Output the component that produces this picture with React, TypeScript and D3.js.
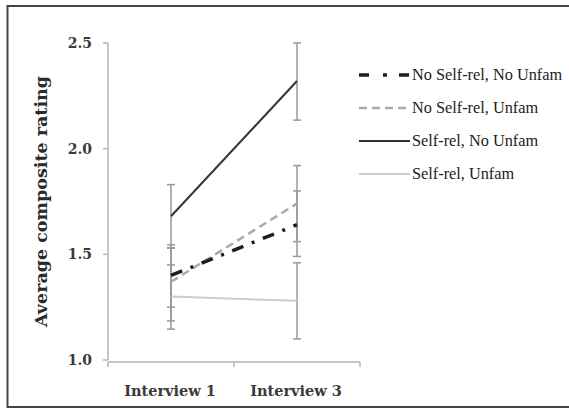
import React from "react";
import * as d3 from "d3";

const categories = ["Interview 1", "Interview 3"];
const yTicks = [1.0, 1.5, 2.0, 2.5];

const seriesNames = [
  "No Self-rel, No Unfam",
  "No Self-rel, Unfam",
  "Self-rel, No Unfam",
  "Self-rel, Unfam",
];
const noSelfNoUnfam = [1.4, 1.64];
const noSelfNoUnfamLo = [1.25, 1.49];
const noSelfNoUnfamHi = [1.545, 1.8];

const noSelfUnfam = [1.37, 1.74];
const noSelfUnfamLo = [1.185, 1.56];
const noSelfUnfamHi = [1.53, 1.92];

const selfNoUnfam = [1.68, 2.32];
const selfNoUnfamLo = [1.53, 2.135];
const selfNoUnfamHi = [1.83, 2.5];

const selfUnfam = [1.3, 1.28];
const selfUnfamLo = [1.146, 1.1];
const selfUnfamHi = [1.45, 1.46];

const W = 569;
const H = 408;

const styles = [
  { stroke: "#1e1e1e", width: 3.5, dash: "12,9,3,9" },
  { stroke: "#aaaaaa", width: 2.5, dash: "8,5" },
  { stroke: "#333333", width: 2, dash: null },
  { stroke: "#cccccc", width: 2, dash: null },
];

export default function App() {
  const x = d3.scaleBand().domain(categories).range([108, 360]).padding(0);
  const y = d3.scaleLinear().domain([1.0, 2.5]).range([360, 43]);
  const cx = (c: string) => (x(c) as number) + x.bandwidth() / 2;

  const series = [
    { name: seriesNames[0], v: noSelfNoUnfam, lo: noSelfNoUnfamLo, hi: noSelfNoUnfamHi },
    { name: seriesNames[1], v: noSelfUnfam, lo: noSelfUnfamLo, hi: noSelfUnfamHi },
    { name: seriesNames[2], v: selfNoUnfam, lo: selfNoUnfamLo, hi: selfNoUnfamHi },
    { name: seriesNames[3], v: selfUnfam, lo: selfUnfamLo, hi: selfUnfamHi },
  ];

  const line = d3
    .line<number>()
    .x((_, i) => cx(categories[i]))
    .y((d) => y(d));

  const xBounds = [...categories.map((c) => x(c) as number), 360];
  const axisColor = "#b5b5b5";
  const tickFont = "DejaVu Serif, serif";
  const legendFont = "Liberation Serif, Times New Roman, Times, serif";

  return (
    <svg
      width={W}
      height={H}
      style={{ position: "absolute", left: 0, top: 0, background: "#fff" }}
    >
      <rect x={0} y={0} width={W} height={H} fill="#fff" />
      <path d={`M ${W} 6 H 7.5 V 407 H ${W}`} fill="none" stroke="#444" strokeWidth={2} />

      {/* y axis */}
      <line x1={108} x2={108} y1={y(2.5)} y2={y(1.0)} stroke={axisColor} strokeWidth={1.5} />
      {yTicks.map((t) => (
        <g key={t}>
          <line x1={103} x2={108} y1={y(t)} y2={y(t)} stroke={axisColor} strokeWidth={1.5} />
          <text
            x={92}
            y={y(t)}
            dy="0.35em"
            textAnchor="end"
            fontFamily={tickFont}
            fontWeight="bold"
            fontSize={14}
            fill="#3a3a3a"
          >
            {d3.format(".1f")(t)}
          </text>
        </g>
      ))}

      {/* x axis */}
      <line x1={108} x2={360} y1={y(1.0) + 2} y2={y(1.0) + 2} stroke={axisColor} strokeWidth={1.5} />
      {xBounds.map((b, i) => (
        <line key={i} x1={b} x2={b} y1={y(1.0) + 2} y2={y(1.0) + 7} stroke={axisColor} strokeWidth={1.5} />
      ))}
      {categories.map((c) => (
        <text
          key={c}
          x={cx(c) - 1}
          y={396}
          textAnchor="middle"
          fontFamily={tickFont}
          fontWeight="bold"
          fontSize={14.5}
          fill="#3a3a3a"
        >
          {c}
        </text>
      ))}

      {/* y title */}
      <text
        transform={`translate(47, ${(y(2.5) + y(1.0)) / 2}) rotate(-90)`}
        textAnchor="middle"
        fontFamily={tickFont}
        fontWeight="bold"
        fontSize={17.5}
        fill="#2a2a2a"
      >
        Average composite rating
      </text>

      {/* error bars */}
      {series.map((s, si) =>
        categories.map((c, i) => (
          <g key={`${si}-${i}`} stroke="#999" strokeWidth={1.5}>
            <line x1={cx(c)} x2={cx(c)} y1={y(s.lo[i])} y2={y(s.hi[i])} />
            <line x1={cx(c) - 4} x2={cx(c) + 4} y1={y(s.lo[i])} y2={y(s.lo[i])} />
            <line x1={cx(c) - 4} x2={cx(c) + 4} y1={y(s.hi[i])} y2={y(s.hi[i])} />
          </g>
        ))
      )}

      {/* lines */}
      {series
        .map((s, si) => ({ s, si }))
        .reverse()
        .map(({ s, si }) => (
          <path
            key={s.name}
            d={line(s.v) as string}
            fill="none"
            stroke={styles[si].stroke}
            strokeWidth={styles[si].width}
            strokeDasharray={styles[si].dash ?? undefined}
          />
        ))}

      {/* legend */}
      {series.map((s, si) => {
        const ly = 75 + si * 33;
        return (
          <g key={s.name}>
            <line
              x1={359}
              x2={410}
              y1={ly}
              y2={ly}
              stroke={styles[si].stroke}
              strokeWidth={styles[si].width}
              strokeDasharray={si === 0 ? "10,14,4,12" : styles[si].dash ?? undefined}
            />
            <text
              x={412}
              y={ly}
              dy="0.33em"
              fontFamily={legendFont}
              fontSize={16.3}
              fill="#222"
            >
              {s.name}
            </text>
          </g>
        );
      })}
    </svg>
  );
}
